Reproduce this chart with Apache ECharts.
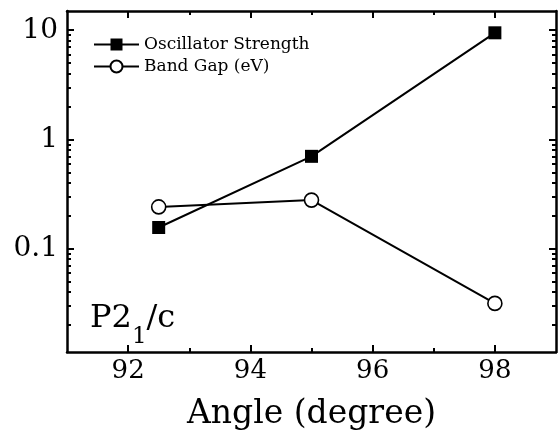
<!DOCTYPE html>
<html><head><meta charset="utf-8">
<script src="https://cdn.jsdelivr.net/npm/echarts@6/dist/echarts.min.js"></script>
<style>html,body{margin:0;padding:0;background:#fff}#c{width:558px;height:438px}</style>
</head><body><div id="c"></div>
<script>
const angles = [92.5, 95, 98];
const oscillatorStrength = [0.156, 0.70, 9.47];
const bandGap = [0.241, 0.278, 0.0315];
const xMajorTicks = [92, 94, 96, 98];
const xMinorTicks = [93, 95, 97];
const yMajorTicks = [0.1, 1, 10];
const yMinorTicks = [0.02, 0.03, 0.04, 0.05, 0.06, 0.07, 0.08, 0.09,
                     0.2, 0.3, 0.4, 0.5, 0.6, 0.7, 0.8, 0.9,
                     2, 3, 4, 5, 6, 7, 8, 9];
const seriesNames = ['Oscillator Strength', 'Band Gap (eV)'];
const xTitle = 'Angle (degree)';

const FONT = 'DejaVu Serif';
const X_MIN = 91, X_MAX = 99, Y_MIN = 0.0113, Y_MAX = 15;
const LINE = { color: '#000', width: 2.5 };

function xAx(pos, ticks, len, labels, line, name) {
  const a = {
    type: 'value', position: pos, min: X_MIN, max: X_MAX,
    axisLine: { show: line, onZero: false, lineStyle: LINE },
    axisTick: { show: true, inside: true, length: len, customValues: ticks, lineStyle: { color: '#000', width: 2 } },
    axisLabel: labels ? { show: true, customValues: ticks, margin: 6, fontFamily: FONT, fontSize: 26, color: '#000' } : { show: false },
    splitLine: { show: false }
  };
  if (name) {
    a.name = name; a.nameLocation = 'middle'; a.nameGap = 46;
    a.nameTextStyle = { fontFamily: FONT, fontSize: 33, color: '#000' };
  }
  return a;
}
function yAx(pos, ticks, len, labels, line) {
  return {
    type: 'log', logBase: 10, position: pos, min: Y_MIN, max: Y_MAX,
    axisLine: { show: line, onZero: false, lineStyle: LINE },
    axisTick: { show: true, inside: true, length: len, customValues: ticks, lineStyle: { color: '#000', width: 2 } },
    axisLabel: labels ? {
      show: true, customValues: ticks, margin: 9, fontFamily: FONT, fontSize: 28, color: '#000',
      formatter: v => String(v)
    } : { show: false },
    splitLine: { show: false }, minorTick: { show: false }
  };
}

const chart = echarts.init(document.getElementById('c'), null, { renderer: 'canvas' });
chart.setOption({
  animation: false,
  backgroundColor: '#fff',
  grid: { left: 67, right: 2, top: 11, bottom: 86, containLabel: false },
  xAxis: [
    xAx('bottom', xMajorTicks, 7, true, true, xTitle),
    xAx('bottom', xMinorTicks, 4, false, false),
    xAx('top', xMajorTicks, 7, false, true),
    xAx('top', xMinorTicks, 4, false, false)
  ],
  yAxis: [
    yAx('left', yMajorTicks, 7, true, true),
    yAx('left', yMinorTicks, 4, false, false),
    yAx('right', yMajorTicks, 7, false, true),
    yAx('right', yMinorTicks, 4, false, false)
  ],
  legend: {
    orient: 'vertical', left: 88, top: 31, itemWidth: 45, itemHeight: 15, itemGap: 5,
    selectedMode: false, data: seriesNames,
    textStyle: { fontFamily: FONT, fontSize: 17, color: '#000' }
  },
  graphic: [{
    type: 'text', left: 90, top: 303, silent: true,
    style: {
      text: '{a|P2}{s|1}{a|/c}',
      rich: {
        a: { fontFamily: FONT, fontSize: 32, lineHeight: 34, verticalAlign: 'top', fill: '#000' },
        s: { fontFamily: FONT, fontSize: 23, lineHeight: 23, padding: [23, 0, 0, 0], verticalAlign: 'top', fill: '#000' }
      }
    }
  }],
  series: [
    {
      name: seriesNames[0], type: 'line', xAxisIndex: 0, yAxisIndex: 0,
      data: angles.map((a, i) => [a, oscillatorStrength[i]]),
      symbol: 'rect', symbolSize: 13,
      lineStyle: { color: '#000', width: 2 },
      itemStyle: { color: '#000', borderColor: '#000', borderWidth: 0 },
      emphasis: { disabled: true }, z: 3
    },
    {
      name: seriesNames[1], type: 'line', xAxisIndex: 0, yAxisIndex: 0,
      data: angles.map((a, i) => [a, bandGap[i]]),
      symbol: 'circle', symbolSize: 14, showAllSymbol: true,
      lineStyle: { color: '#000', width: 2 },
      itemStyle: { color: '#fff', borderColor: '#000', borderWidth: 1.6 },
      emphasis: { disabled: true }, z: 2
    }
  ]
});
</script></body></html>
